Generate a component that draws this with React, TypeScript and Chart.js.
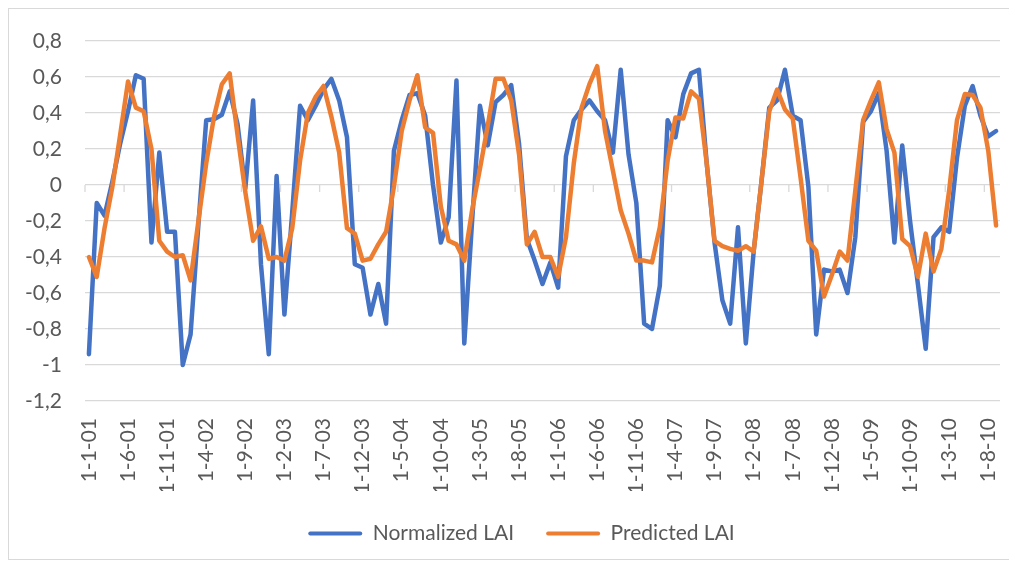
import { useEffect, useRef } from 'react';
import { Chart, registerables } from 'chart.js';

Chart.register(...registerables);

// Monthly observations, January 2001 to September 2010
const MONTH_COUNT = 117;
const categories: string[] = Array.from({ length: MONTH_COUNT }, (_, i) =>
  `1-${(i % 12) + 1}-${String(Math.floor(i / 12) + 1).padStart(2, '0')}`
);

// Every fifth month carries a label on the category axis
const LABEL_EVERY = 5;

const normalizedLai: number[] = [
  -0.94, -0.10, -0.17, 0.02, 0.23, 0.41, 0.61, 0.59, -0.32, 0.18, -0.26, -0.26,
  -1.00, -0.83, -0.22, 0.36, 0.365, 0.39, 0.52, 0.34, -0.02, 0.47, -0.44, -0.94,
  0.05, -0.72, -0.15, 0.44, 0.36, 0.44, 0.53, 0.59, 0.47, 0.265, -0.44, -0.46,
  -0.72, -0.55, -0.77, 0.19, 0.36, 0.50, 0.51, 0.385, 0.0, -0.32, -0.18, 0.58,
  -0.88, -0.20, 0.44, 0.22, 0.46, 0.50, 0.555, 0.23, -0.30, -0.42, -0.55, -0.43,
  -0.57, 0.16, 0.36, 0.42, 0.47, 0.41, 0.36, 0.18, 0.64, 0.17, -0.10, -0.77,
  -0.80, -0.56, 0.36, 0.265, 0.505, 0.62, 0.64, 0.12, -0.32, -0.64, -0.77, -0.235,
  -0.88, -0.37, 0.02, 0.43, 0.47, 0.64, 0.385, 0.36, -0.01, -0.83, -0.47, -0.48,
  -0.47, -0.60, -0.29, 0.35, 0.41, 0.51, 0.19, -0.32, 0.22, -0.20, -0.55, -0.91,
  -0.29, -0.235, -0.26, 0.15, 0.44, 0.55, 0.385, 0.27, 0.30,
];

const predictedLai: number[] = [
  -0.40, -0.51, -0.24, -0.01, 0.28, 0.575, 0.43, 0.41, 0.20, -0.31, -0.37, -0.40,
  -0.39, -0.53, -0.20, 0.12, 0.38, 0.56, 0.62, 0.28, -0.04, -0.31, -0.23, -0.41,
  -0.40, -0.42, -0.24, 0.135, 0.40, 0.49, 0.55, 0.38, 0.18, -0.24, -0.27, -0.42,
  -0.41, -0.33, -0.26, -0.01, 0.30, 0.47, 0.61, 0.32, 0.29, -0.12, -0.31, -0.33,
  -0.42, -0.14, 0.09, 0.33, 0.59, 0.59, 0.47, 0.17, -0.33, -0.26, -0.40, -0.40,
  -0.51, -0.29, 0.12, 0.43, 0.56, 0.66, 0.30, 0.08, -0.14, -0.27, -0.42, -0.42,
  -0.43, -0.235, 0.135, 0.375, 0.37, 0.52, 0.48, 0.12, -0.31, -0.34, -0.355, -0.365,
  -0.34, -0.37, 0.02, 0.41, 0.53, 0.42, 0.37, 0.04, -0.31, -0.365, -0.62, -0.50,
  -0.37, -0.42, -0.03, 0.36, 0.47, 0.57, 0.31, 0.18, -0.30, -0.34, -0.51, -0.27,
  -0.48, -0.355, -0.03, 0.36, 0.505, 0.50, 0.43, 0.19, -0.225,
];

const Y_MIN = -1.2;
const Y_MAX = 0.8;
const Y_STEP = 0.2;

const BLUE = '#4472C4';
const ORANGE = '#ED7D31';
const GRID = '#d9d9d9';
const TEXT = '#595959';
const FONT = "Lato, 'Liberation Sans', sans-serif";

const formatDecimal = (v: number) => String(Math.round(v * 10) / 10).replace('.', ',');

// Small tick marks hanging below the zero line at every labelled category boundary
const zeroTicks = {
  id: 'zeroTicks',
  beforeDatasetsDraw(chart: any) {
    const x = chart.scales.x;
    const y = chart.scales.y;
    const y0 = y.getPixelForValue(0);
    const half = (x.getPixelForValue(1) - x.getPixelForValue(0)) / 2;
    const ctx = chart.ctx;
    ctx.save();
    ctx.strokeStyle = GRID;
    ctx.lineWidth = 1.3;
    for (let i = 0; i < categories.length; i += LABEL_EVERY) {
      const px = x.getPixelForValue(i) - half;
      ctx.beginPath();
      ctx.moveTo(px, y0);
      ctx.lineTo(px, y0 + 7);
      ctx.stroke();
    }
    ctx.restore();
  },
};

// Nudges the legend row sideways so it sits under the plot's centre
const LEGEND_SHIFT = 17;
const legendShift = {
  id: 'legendShift',
  afterLayout(chart: any) {
    if (chart.legend) {
      chart.legend.left += LEGEND_SHIFT;
      chart.legend.right += LEGEND_SHIFT;
    }
  },
};

export default function App() {
  const canvasRef = useRef<HTMLCanvasElement | null>(null);

  useEffect(() => {
    if (!canvasRef.current) return;
    const chart = new Chart(canvasRef.current, {
      type: 'line',
      data: {
        labels: categories,
        datasets: [
          {
            label: 'Normalized LAI',
            data: normalizedLai,
            borderColor: BLUE,
            backgroundColor: BLUE,
            borderWidth: 4.5,
            pointRadius: 0,
            tension: 0,
            borderJoinStyle: 'round',
            borderCapStyle: 'round',
            order: 1,
          },
          {
            label: 'Predicted LAI',
            data: predictedLai,
            borderColor: ORANGE,
            backgroundColor: ORANGE,
            borderWidth: 4.5,
            pointRadius: 0,
            tension: 0,
            borderJoinStyle: 'round',
            borderCapStyle: 'round',
            order: 0,
          },
        ],
      },
      options: {
        responsive: false,
        animation: false,
        layout: { padding: { left: 0, right: 10, top: 32, bottom: 5 } },
        plugins: {
          tooltip: { enabled: false },
          legend: {
            position: 'bottom',
            labels: {
              boxWidth: 54,
              boxHeight: 4,
              padding: 32,
              color: TEXT,
              font: { family: FONT, size: 21 },
              generateLabels: (c: any) =>
                c.data.datasets.map((ds: any, i: number) => ({
                  text: ds.label,
                  fillStyle: ds.borderColor,
                  strokeStyle: ds.borderColor,
                  lineWidth: 0,
                  borderRadius: 2,
                  fontColor: TEXT,
                  hidden: false,
                  datasetIndex: i,
                })),
            },
          },
        },
        scales: {
          x: {
            type: 'category',
            offset: true,
            grid: { display: false, drawTicks: false },
            border: { display: false },
            ticks: {
              autoSkip: false,
              minRotation: 90,
              maxRotation: 90,
              padding: 17,
              color: TEXT,
              font: { family: FONT, size: 21 },
              callback: (_v: any, index: number) =>
                index % LABEL_EVERY === 0 ? categories[index] : '',
            },
            afterFit: (scale: any) => {
              scale.height = 90;
              scale.paddingLeft = 0;
              scale.paddingRight = 0;
            },
          },
          y: {
            min: Y_MIN,
            max: Y_MAX,
            grid: { color: GRID, lineWidth: 1.3, drawTicks: false },
            border: { display: false },
            ticks: {
              stepSize: Y_STEP,
              padding: 23,
              color: TEXT,
              font: { family: FONT, size: 21 },
              callback: (v: any) => formatDecimal(Number(v)),
            },
            afterFit: (scale: any) => {
              scale.width = 76;
              scale.paddingTop = 0;
              scale.paddingBottom = 0;
            },
          },
        },
      },
      plugins: [zeroTicks, legendShift],
    });
    return () => chart.destroy();
  }, []);

  return (
    <div
      style={{
        width: 1003,
        height: 552,
        border: `1px solid ${GRID}`,
        boxSizing: 'border-box',
        background: '#fff',
      }}
    >
      <canvas ref={canvasRef} width={1001} height={550} style={{ display: 'block' }} />
    </div>
  );
}
